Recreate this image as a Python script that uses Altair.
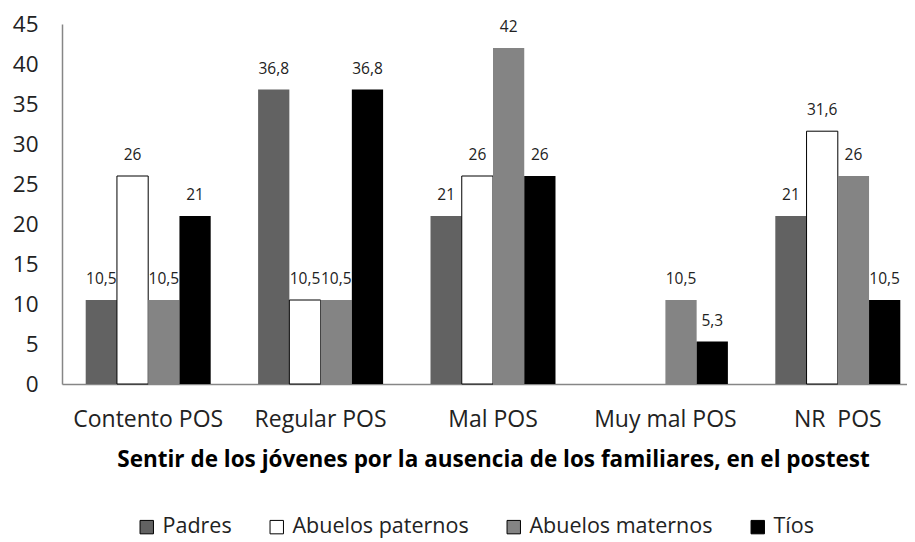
import altair as alt
import pandas as pd

categorias = ["Contento POS", "Regular POS", "Mal POS", "Muy mal POS", "NR\u00a0 POS"]
series = ["Padres", "Abuelos paternos", "Abuelos maternos", "Tíos"]
padres = [10.5, 36.8, 21, None, 21]
abuelos_paternos = [26, 10.5, 26, None, 31.6]
abuelos_maternos = [10.5, 10.5, 42, 10.5, 26]
tios = [21, 36.8, 26, 5.3, 10.5]
colores = ["#626262", "#ffffff", "#848484", "#000000"]

rows = []
for serie, vals in zip(series, [padres, abuelos_paternos, abuelos_maternos, tios]):
    for cat, v in zip(categorias, vals):
        if v is not None:
            rows.append({"categoria": cat, "serie": serie, "valor": v})
df = pd.DataFrame(rows)

FONT = "Open Sans"
TXT = "#222222"

x_enc = alt.X(
    "categoria:N",
    sort=categorias,
    scale=alt.Scale(range=[0, 862], paddingInner=0.275, paddingOuter=0.1375),
    axis=alt.Axis(
        title="Sentir de los jóvenes por la ausencia de los familiares, en el postest",
        labelAngle=0, ticks=False, labelFontSize=23, labelFont=FONT, labelColor=TXT,
        labelPadding=24, domainColor="#868686", domainWidth=1.5,
        titleFont=FONT, titleFontSize=22.5, titleFontWeight="bold", titleColor="#000000",
        titlePadding=17,
    ),
)
xo_enc = alt.XOffset("serie:N", sort=series, scale=alt.Scale(paddingInner=0, paddingOuter=0))
y_enc = alt.Y(
    "valor:Q",
    scale=alt.Scale(domain=[0, 45], nice=False),
    axis=alt.Axis(
        title=None, values=list(range(0, 46, 5)), grid=False, ticks=False,
        labelFontSize=22.5, labelFont=FONT, labelColor=TXT, labelPadding=24,
        domainColor="#868686", domainWidth=1.5,
    ),
)

bars = alt.Chart(df).mark_bar(strokeWidth=1).encode(
    x=x_enc,
    xOffset=xo_enc,
    y=y_enc,
    color=alt.Color(
        "serie:N", sort=series,
        scale=alt.Scale(domain=series, range=colores),
        legend=alt.Legend(
            orient="none", legendX=74, legendY=492, direction="horizontal", title=None,
            labelFontSize=21.5, labelFont=FONT, labelColor=TXT, labelLimit=400,
            symbolType="square", symbolSize=180, columnPadding=34, labelOffset=5,
            symbolStrokeColor="#000000", symbolStrokeWidth=1, symbolOpacity=1,
        ),
    ),
    stroke=alt.condition("datum.serie == 'Abuelos paternos'", alt.value("#000000"), alt.value("transparent")),
)

labels = alt.Chart(df).transform_calculate(
    etiqueta="replace(toString(datum.valor), '.', ',')"
).mark_text(dy=-16, baseline="alphabetic", fontSize=15.5, font=FONT, color=TXT).encode(
    x=x_enc,
    xOffset=xo_enc,
    y=y_enc,
    text="etiqueta:N",
)

chart = alt.layer(bars, labels).properties(
    width=845, height=360, autosize="none",
    padding={"left": 54, "top": 16, "right": 0, "bottom": 158},
    background="white",
).configure_view(stroke=None)

chart.save("out.html", embed_options={"renderer": "svg", "actions": False})
